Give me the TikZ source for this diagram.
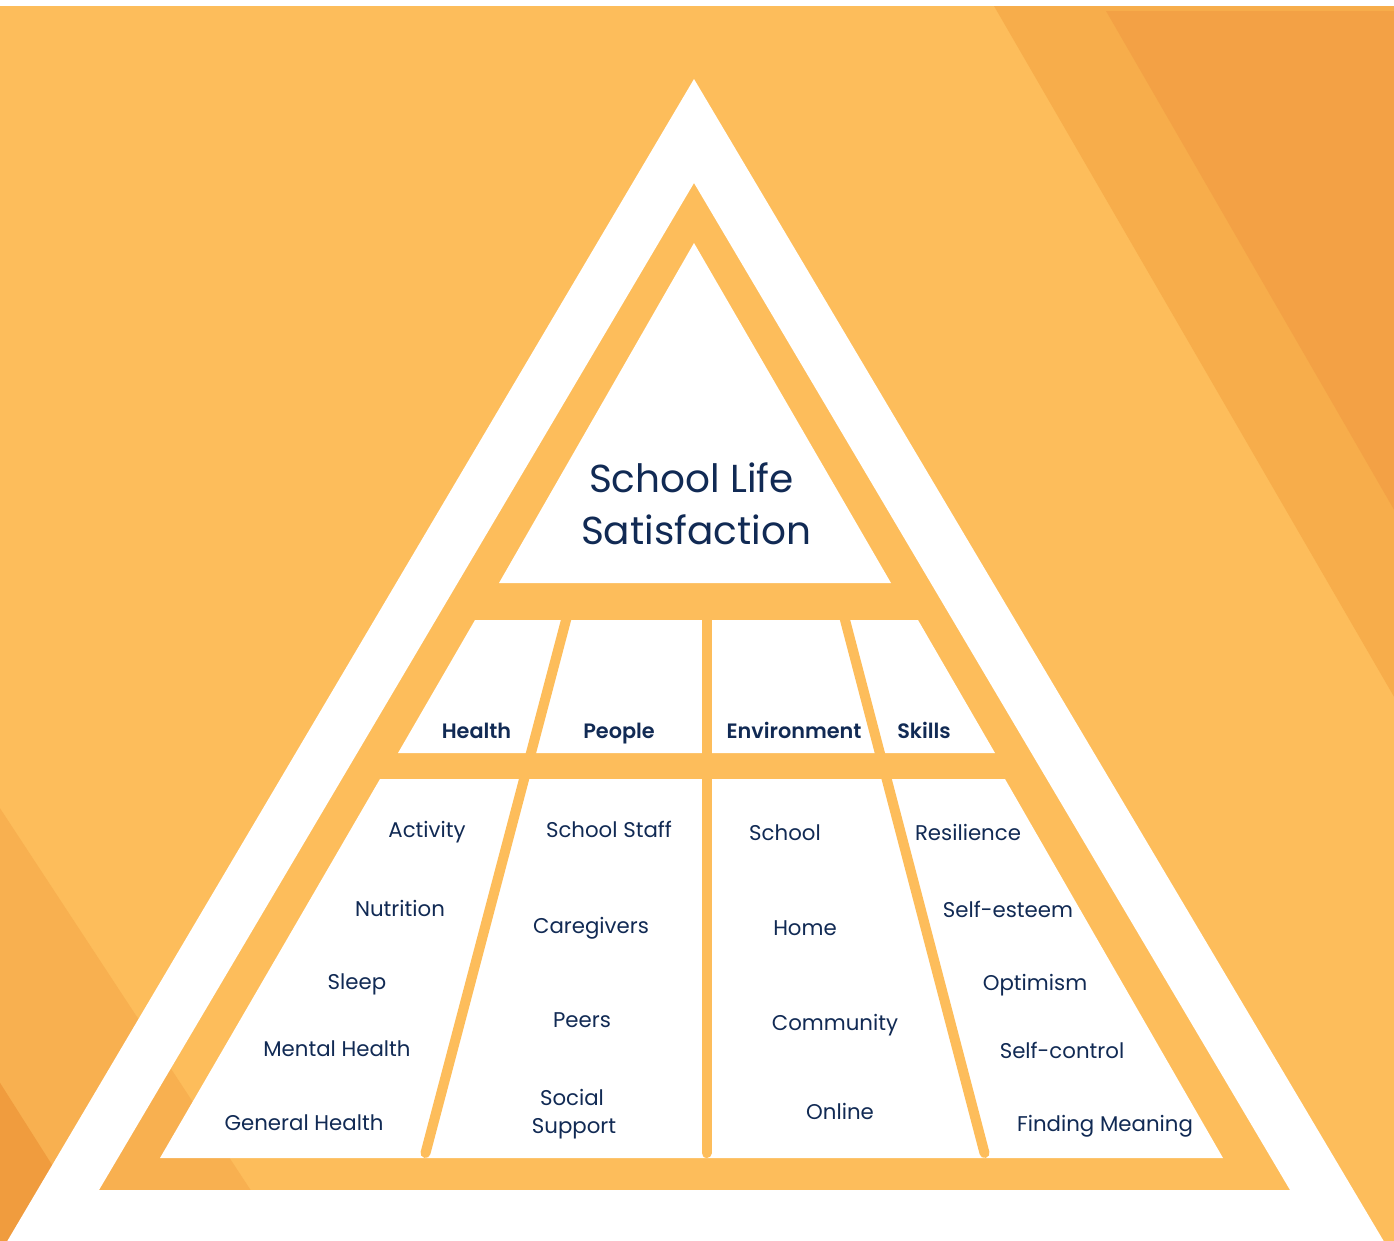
\documentclass[tikz,border=0pt]{standalone}
\usepackage{fontspec}
\setmainfont{Poppins}[BoldFont={* SemiBold}]
\definecolor{bgor}{HTML}{FDBD5B}
\definecolor{bandA}{HTML}{F7AD4B}
\definecolor{bandB}{HTML}{F3A145}
\definecolor{blA}{HTML}{F8B050}
\definecolor{blB}{HTML}{F09C3E}
\definecolor{navy}{HTML}{112A54}
\tikzset{
  item/.style={font=\fontsize{21.3}{25}\selectfont, text=navy, anchor=base, inner sep=0pt},
  cat/.style={font=\fontsize{20.8}{25}\selectfont\bfseries, text=navy, anchor=base, inner sep=0pt},
  ttl/.style={font=\fontsize{39}{48}\selectfont, text=navy, anchor=base, inner sep=0pt},
  divider/.style={draw=bgor, line width=10pt, line cap=round},
  cell/.style={fill=white}
}
\begin{document}
\begin{tikzpicture}[x=1pt,y=-1pt]
\useasboundingbox (0,0) rectangle (1394,1240);
% background
\fill[white] (-10,-10) rectangle (1404,1250);
\fill[bgor] (-10,6) rectangle (1404,1250);
\fill[bandA] (994,6) -- (1404,6) -- (1404,714) -- cycle;
\fill[bandB] (1106,11) -- (1404,11) -- (1404,527) -- cycle;
\fill[blA] (-10,793) -- (290,1250) -- (-10,1250) -- cycle;
\fill[blB] (-10,1067) -- (106,1250) -- (-10,1250) -- cycle;
% white ring
\fill[white, even odd rule] (694,79) -- (2,1250) -- (1389,1250) -- cycle
  (694,183) -- (99,1190) -- (1290,1190) -- cycle;
% inner white shapes
\fill[cell] (694,243) -- (891,583) -- (499,583) -- cycle;
\fill[cell] (475,620) -- (918,620) -- (995,753) -- (398,753) -- cycle;
\fill[cell] (380,779) -- (1005,779) -- (1223,1158) -- (160,1158) -- cycle;
% dividers
\coordinate (d1a) at (571.3,600);
\coordinate (d1b) at (425.5,1153);
\coordinate (d2a) at (706.5,600);
\coordinate (d2b) at (706.5,1153);
\coordinate (d3a) at (839.8,600);
\coordinate (d3b) at (984.5,1153);
\draw[divider] (d1a) -- (d1b);
\draw[divider] (d2a) -- (d2b);
\draw[divider] (d3a) -- (d3b);
% title
\node[ttl] (t1) at (691.5,492) {School Life};
\node[ttl] (t2) at (696,544) {Satisfaction};
% categories
\node[cat] (health) at (476.5,738) {Health};
\node[cat] (people) at (619,738) {People};
\node[cat] (env) at (794,738) {Environment};
\node[cat] (skills) at (924,738) {Skills};
% health items
\node[item] (h1) at (427,837) {Activity};
\node[item] (h2) at (400,916) {Nutrition};
\node[item] (h3) at (357,989) {Sleep};
\node[item] (h4) at (337,1056) {Mental Health};
\node[item] (h5) at (304,1130) {General Health};
% people items
\node[item] (p1) at (609,837) {School Staff};
\node[item] (p2) at (591,933) {Caregivers};
\node[item] (p3) at (582,1027) {Peers};
\node[item] (p4) at (572,1105) {Social};
\node[item] (p5) at (574,1133) {Support};
% environment items
\node[item] (e1) at (785,840) {School};
\node[item] (e2) at (805,935) {Home};
\node[item] (e3) at (835,1030) {Community};
\node[item] (e4) at (840,1119) {Online};
% skills items
\node[item] (s1) at (968,840) {Resilience};
\node[item] (s2) at (1008,917) {Self-esteem};
\node[item] (s3) at (1035,990) {Optimism};
\node[item] (s4) at (1062,1058) {Self-control};
\node[item] (s5) at (1105,1131) {Finding Meaning};
\end{tikzpicture}
\end{document}
